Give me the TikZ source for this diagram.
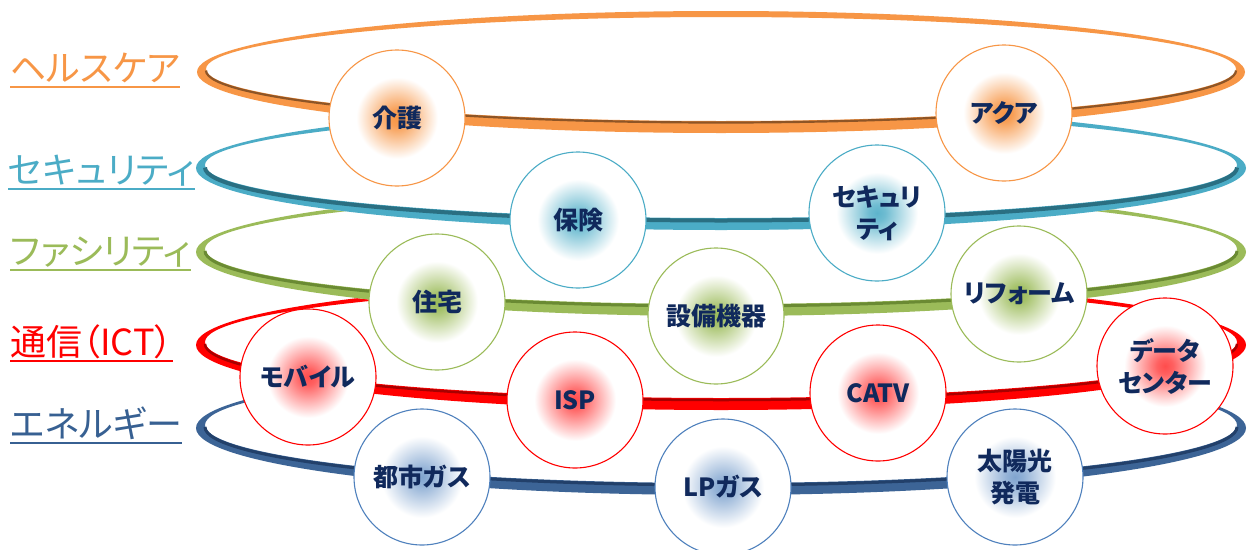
\documentclass[tikz,border=0pt]{standalone}
\usepackage{fontspec}
\newfontfamily\jpfont{Noto Sans CJK JP}[RawFeature=+palt]

\definecolor{hcOrange}{HTML}{F79646}
\definecolor{hcDark}{HTML}{8E5526}
\definecolor{secBlue}{HTML}{4BACC6}
\definecolor{secDark}{HTML}{2A6F82}
\definecolor{facGreen}{HTML}{9BBB59}
\definecolor{facDark}{HTML}{6A8A33}
\definecolor{ictRed}{HTML}{FF0000}
\definecolor{ictDark}{HTML}{A80000}
\definecolor{enBlue}{HTML}{3C6496}
\definecolor{enDark}{HTML}{22406A}
\definecolor{enLine}{HTML}{4F81BD}
\definecolor{enText}{HTML}{376092}
\definecolor{navy}{HTML}{10295C}

% soft glow in the middle of each circle (25bp = circle radius)
\pgfdeclareradialshading{glowhcOrange}{\pgfpointorigin}{color(0bp)=(hcOrange); color(3bp)=(hcOrange!92!white); color(15bp)=(white); color(50bp)=(white)}
\pgfdeclareradialshading{glowsecBlue}{\pgfpointorigin}{color(0bp)=(secBlue!90!white); color(3bp)=(secBlue!80!white); color(15bp)=(white); color(50bp)=(white)}
\pgfdeclareradialshading{glowfacGreen}{\pgfpointorigin}{color(0bp)=(facGreen); color(3bp)=(facGreen!90!white); color(15bp)=(white); color(50bp)=(white)}
\pgfdeclareradialshading{glowictRed}{\pgfpointorigin}{color(0bp)=(ictRed!70!white); color(3bp)=(ictRed!62!white); color(15bp)=(white); color(50bp)=(white)}
\pgfdeclareradialshading{glowenLine}{\pgfpointorigin}{color(0bp)=(enLine!72!white); color(3bp)=(enLine!62!white); color(15bp)=(white); color(50bp)=(white)}

\tikzset{
  topic/.style={circle, draw=#1, line width=1.1pt, minimum size=136pt, inner sep=0pt,
    shading=glow#1, font=\jpfont\bfseries\fontsize{25}{32}\selectfont, text=navy, align=center},
  layer/.style={anchor=base west, inner sep=0pt, text=#1,
    font=\jpfont\fontsize{36}{40}\selectfont},
  uline/.style={draw=#1, line width=2.6pt},
}

\begin{document}
\begin{tikzpicture}[x=1pt,y=-1pt]

      \useasboundingbox (0,0) rectangle (1247,549);
      \fill[white] (0,0) rectangle (1247,549);

      % rings, lowest first; the white inside hides the back of the ring below
      \fill[white] (721,428) ellipse [x radius=525, y radius=67];
      \fill[enBlue, even odd rule] (721,428) ellipse [x radius=525, y radius=67] (721,425) ellipse [x radius=516, y radius=58];
      \draw[enDark, line width=3pt] (1237,427) arc [start angle=0, end angle=180, x radius=516, y radius=58];
      \fill[white] (721,345) ellipse [x radius=525, y radius=65];
      \fill[ictRed, even odd rule] (721,345) ellipse [x radius=525, y radius=65] (721,342) ellipse [x radius=516, y radius=56];
      \draw[ictDark, line width=2.5pt] (1237,344) arc [start angle=0, end angle=180, x radius=516, y radius=56];
      \fill[white] (721,252) ellipse [x radius=525, y radius=64];
      \fill[facGreen, even odd rule] (721,252) ellipse [x radius=525, y radius=64] (721,249) ellipse [x radius=516, y radius=55];
      \draw[facDark, line width=3pt] (1237,251) arc [start angle=0, end angle=180, x radius=516, y radius=55];
      \fill[white] (721,168) ellipse [x radius=525, y radius=62];
      \fill[secBlue, even odd rule] (721,168) ellipse [x radius=525, y radius=62] (721,165) ellipse [x radius=516, y radius=53];
      \draw[secDark, line width=4pt] (1237,167.5) arc [start angle=0, end angle=180, x radius=516, y radius=53];
      \fill[white] (721,72) ellipse [x radius=524, y radius=61];
      \fill[hcOrange, even odd rule] (721,72) ellipse [x radius=524, y radius=61] (721,69) ellipse [x radius=515, y radius=52];
      \draw[hcDark, line width=2.2pt] (1236,70.5) arc [start angle=0, end angle=180, x radius=515, y radius=52];

      % layer names
      \node[layer=hcOrange] (L1) at (10,81) {ヘルスケア};
      \node[layer=secBlue]  (L2) at (8,183) {セキュリティ};
      \node[layer=facGreen] (L3) at (10,264) {ファシリティ};
      \node[layer=ictRed]   (L4) at (10,355) {通信（ICT）};
      \node[layer=enText]   (L5) at (10,437) {エネルギー};
      \draw[uline=hcOrange] ([yshift=-6pt]L1.base west) -- ([yshift=-6pt]L1.base east);
      \draw[uline=secBlue]  ([yshift=-6pt]L2.base west) -- ([yshift=-6pt]L2.base east);
      \draw[uline=facGreen] ([yshift=-6pt]L3.base west) -- ([yshift=-6pt]L3.base east);
      \draw[uline=ictRed]   ([yshift=-6pt]L4.base west) -- ([yshift=-6pt]L4.base east);
      \draw[uline=enText]   ([yshift=-6pt]L5.base west) -- ([yshift=-6pt]L5.base east);

      \begin{scope}[every node/.style={topic=hcOrange}]
        \node (h1) at (397,118) {介護};
        \node (h2) at (1004,113) {アクア};
      \end{scope}

      \begin{scope}[every node/.style={topic=secBlue}]
        \node (s1) at (578,220) {保険};
        \node (s2) at (877,213) {セキュリ\\ティ};
      \end{scope}

      \begin{scope}[every node/.style={topic=facGreen}]
        \node (f1) at (437,302) {住宅};
        \node (f2) at (716,316) {設備機器};
        \node (f3) at (1019,294) {リフォーム};
      \end{scope}

      \begin{scope}[every node/.style={topic=ictRed}]
        \node (i1) at (308,377) {モバイル};
        \node (i2) at (575,400) {ISP};
        \node (i3) at (878,393) {CATV};
        \node (i4) at (1165,366) {データ\\センター};
      \end{scope}

      \begin{scope}[every node/.style={topic=enLine}]
        \node (e1) at (422,477) {都市ガス};
        \node (e2) at (723,487) {LPガス};
        \node (e3) at (1015,477) {太陽光\\発電};
      \end{scope}

    \end{tikzpicture}
\end{document}
